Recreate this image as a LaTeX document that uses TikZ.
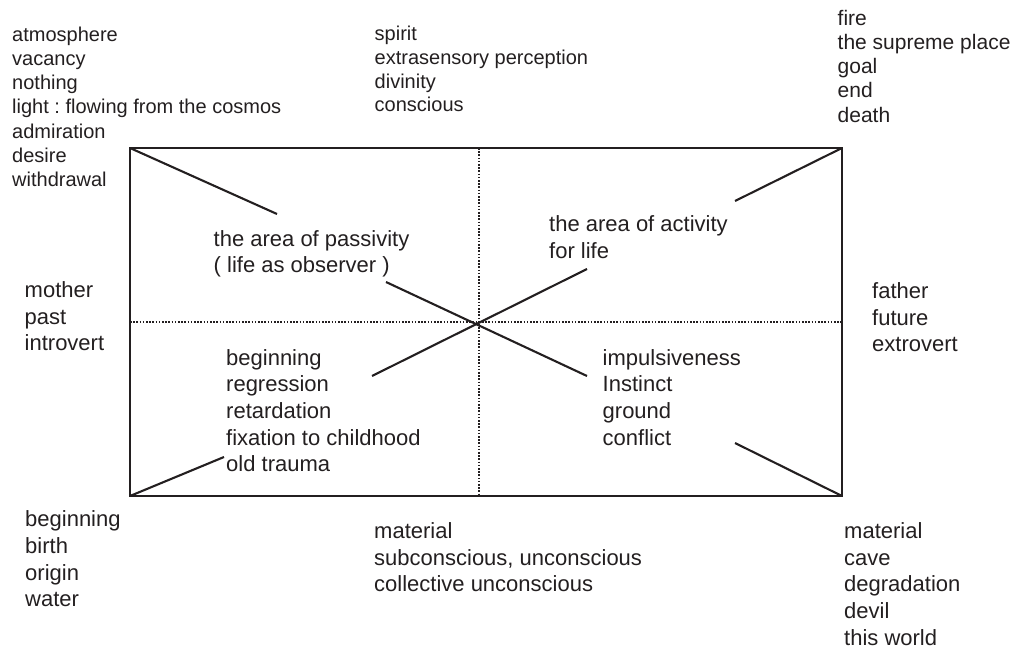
\documentclass[tikz,border=0pt]{standalone}
\usepackage{fontspec}
\setmainfont{Liberation Sans}
\usetikzlibrary{positioning}
\definecolor{ink}{HTML}{231F20}

\begin{document}
\frenchspacing
\begin{tikzpicture}[x=1pt, y=-1pt, ink,
    frame/.style={line width=2.3pt},
    axis/.style={line width=1.6pt, dash pattern=on 1.6pt off 1.6pt},
    ray/.style={line width=2.1pt},
    word/.style={anchor=north west, inner sep=0pt, align=left, text=ink},
    outer/.style={word, font=\fontsize{20}{24.2}\selectfont},
    upper/.style={word, font=\fontsize{21}{24.2}\selectfont},
    inner/.style={word, font=\fontsize{22}{26.7}\selectfont}]
  \useasboundingbox (0,0) rectangle (1018,653);

  % the box and its cross
  \coordinate (nw) at (130,148);
  \coordinate (ne) at (842,148);
  \coordinate (sw) at (130,496);
  \coordinate (se) at (842,496);
  \coordinate (top) at (479,148);
  \coordinate (bot) at (479,496);
  \coordinate (lft) at (130,322);
  \coordinate (rgt) at (842,322);

  \draw[axis] (top) -- (bot);
  \draw[axis] (lft) -- (rgt);
  \draw[frame] (nw) rectangle (se);

  % diagonals, broken around the texts
  \coordinate (d1) at (277,214);
  \coordinate (d2) at (386,282);
  \coordinate (d3) at (587,376);
  \coordinate (d4) at (372,376);
  \coordinate (d5) at (587,269);
  \coordinate (d6) at (735,201);
  \coordinate (d7) at (224,457);
  \coordinate (d8) at (735,443);
  \draw[ray] (nw) -- (d1);
  \draw[ray] (d2) -- (d3);
  \draw[ray] (d4) -- (d5);
  \draw[ray] (d6) -- (ne);
  \draw[ray] (sw) -- (d7);
  \draw[ray] (d8) -- (se);

  % outside the box
  \node[outer] (air) at (12,24.1) {\strut atmosphere\\vacancy\\nothing\\light : flowing from the cosmos\\admiration\\desire\\withdrawal};
  \node[word, font=\fontsize{20}{23.7}\selectfont] (spirit) at (374.5,24.1) {\strut spirit\\extrasensory perception\\divinity\\conscious};
  \node[upper] (fire) at (837.5,8.1) {\strut fire\\the supreme place\\goal\\end\\death};
  \node[inner] (mother) at (24.5,278.6) {\strut mother\\past\\introvert};
  \node[inner] (father) at (872,279.6) {\strut father\\future\\extrovert};
  \node[inner] (birth) at (25,508) {\strut beginning\\birth\\origin\\water};
  \node[inner] (matter) at (374,519.6) {\strut material\\subconscious, unconscious\\collective unconscious};
  \node[inner] (cave) at (844,519.6) {\strut material\\cave\\degradation\\devil\\this world};

  % inside the box
  \node[inner] (passive) at (213.5,227.3) {\strut the area of passivity\\( life as observer )};
  \node[inner] (active) at (549,213) {\strut the area of activity\\for life};
  \node[inner] (regress) at (226,346.3) {\strut beginning\\regression\\retardation\\fixation to childhood\\old trauma};
  \node[inner] (instinct) at (602.5,346.3) {\strut impulsiveness\\Instinct\\ground\\conflict};
\end{tikzpicture}
\end{document}
